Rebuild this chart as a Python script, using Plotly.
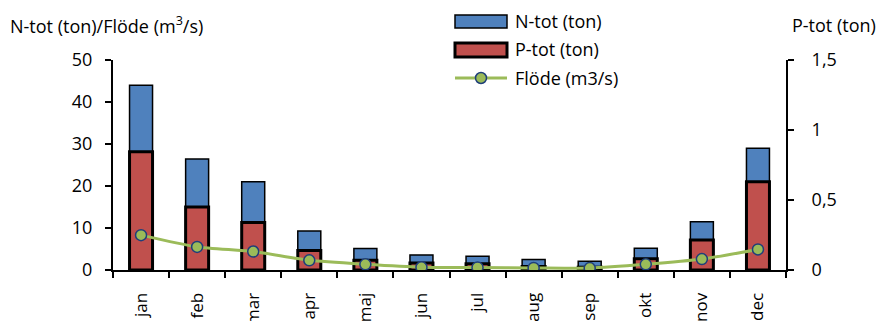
import plotly.graph_objects as go

# Monthly transport and flow
months = ["jan", "feb", "mar", "apr", "maj", "jun", "jul", "aug", "sep", "okt", "nov", "dec"]
n_tot = [44.0, 26.4, 21.0, 9.3, 5.1, 3.6, 3.3, 2.5, 2.1, 5.2, 11.5, 29.0]
p_tot = [0.845, 0.45, 0.34, 0.14, 0.07, 0.05, 0.045, 0.025, 0.02, 0.08, 0.215, 0.63]
flode = [8.3, 5.5, 4.4, 2.3, 1.35, 0.65, 0.6, 0.5, 0.45, 1.35, 2.6, 4.9]

W, H = 881, 321
ML, MR, MT, MB = 113, 95, 60, 51
FONT = "Open Sans"
BLUE = "#4F81BD"
RED = "#C0504D"
GREEN = "#9BBB59"
NAVY = "#1F3F7A"


def px_x(px):
    return (px - ML) / (W - ML - MR)


def px_y(py):
    return (H - MB - py) / (H - MT - MB)


fig = go.Figure()
fig.add_trace(go.Bar(
    x=months, y=n_tot, name="N-tot (ton)", yaxis="y", width=0.41,
    marker=dict(color=BLUE, line=dict(color="black", width=1.5)),
))
fig.add_trace(go.Bar(
    x=months, y=p_tot, name="P-tot (ton)", yaxis="y2", width=0.41,
    marker=dict(color=RED, line=dict(color="black", width=3)),
))
fig.add_trace(go.Scatter(
    x=months, y=flode, name="Flöde (m3/s)", yaxis="y3", mode="lines+markers",
    line=dict(color=GREEN, width=3, shape="spline", smoothing=0.6),
    marker=dict(size=11, color=GREEN, line=dict(color=NAVY, width=1.5)),
))

axis_common = dict(showgrid=False, zeroline=False, showline=True, linecolor="black",
                   linewidth=2, ticks="outside", ticklen=6, tickwidth=1.5, tickcolor="black",
                   automargin=False)

fig.update_layout(
    width=W, height=H,
    margin=dict(l=ML, r=MR, t=MT, b=MB, pad=0),
    paper_bgcolor="white", plot_bgcolor="white",
    barmode="overlay", showlegend=False,
    separators=", ",
    font=dict(family=FONT, color="black"),
    xaxis=dict(**axis_common, tickson="boundaries", range=[-0.5, 11.5],
               tickangle=-90, tickfont=dict(size=17), ticklabelstandoff=14),
    yaxis=dict(**axis_common, range=[0, 50], dtick=10, tickfont=dict(size=18),
               ticklabelstandoff=9),
    yaxis2=dict(**axis_common, range=[0, 1.5], dtick=0.5, overlaying="y", side="right",
                tickfont=dict(size=18), ticklabelstandoff=14),
    yaxis3=dict(range=[0, 50], overlaying="y", visible=False, automargin=False),
)

# Axis titles
fig.add_annotation(text="N-tot (ton)/Flöde (m<sup>3</sup>/s)", xref="paper", yref="paper",
                   x=px_x(8), y=px_y(25), xanchor="left", yanchor="middle",
                   showarrow=False, font=dict(size=18))
fig.add_annotation(text="P-tot (ton)", xref="paper", yref="paper",
                   x=px_x(878), y=px_y(25), xanchor="right", yanchor="middle",
                   showarrow=False, font=dict(size=18))

# Legend
sx0, sx1 = 455, 507
fig.add_shape(type="rect", xref="paper", yref="paper", x0=px_x(sx0), x1=px_x(sx1),
              y0=px_y(28), y1=px_y(15), fillcolor=BLUE, line=dict(color="black", width=1.5))
fig.add_shape(type="rect", xref="paper", yref="paper", x0=px_x(sx0), x1=px_x(sx1),
              y0=px_y(57), y1=px_y(43), fillcolor=RED, line=dict(color="black", width=3))
fig.add_shape(type="line", xref="paper", yref="paper", x0=px_x(sx0), x1=px_x(sx1),
              y0=px_y(78), y1=px_y(78), line=dict(color=GREEN, width=3))
fig.add_shape(type="circle", xref="paper", yref="paper", x0=px_x(475.5), x1=px_x(486.5),
              y0=px_y(83.5), y1=px_y(72.5), fillcolor=GREEN, line=dict(color=NAVY, width=1.5))
for label, yy in [("N-tot (ton)", 21), ("P-tot (ton)", 49), ("Flöde (m3/s)", 78)]:
    fig.add_annotation(text=label, xref="paper", yref="paper", x=px_x(513), y=px_y(yy),
                       xanchor="left", yanchor="middle", showarrow=False, font=dict(size=18))

fig.write_html("out.html")
